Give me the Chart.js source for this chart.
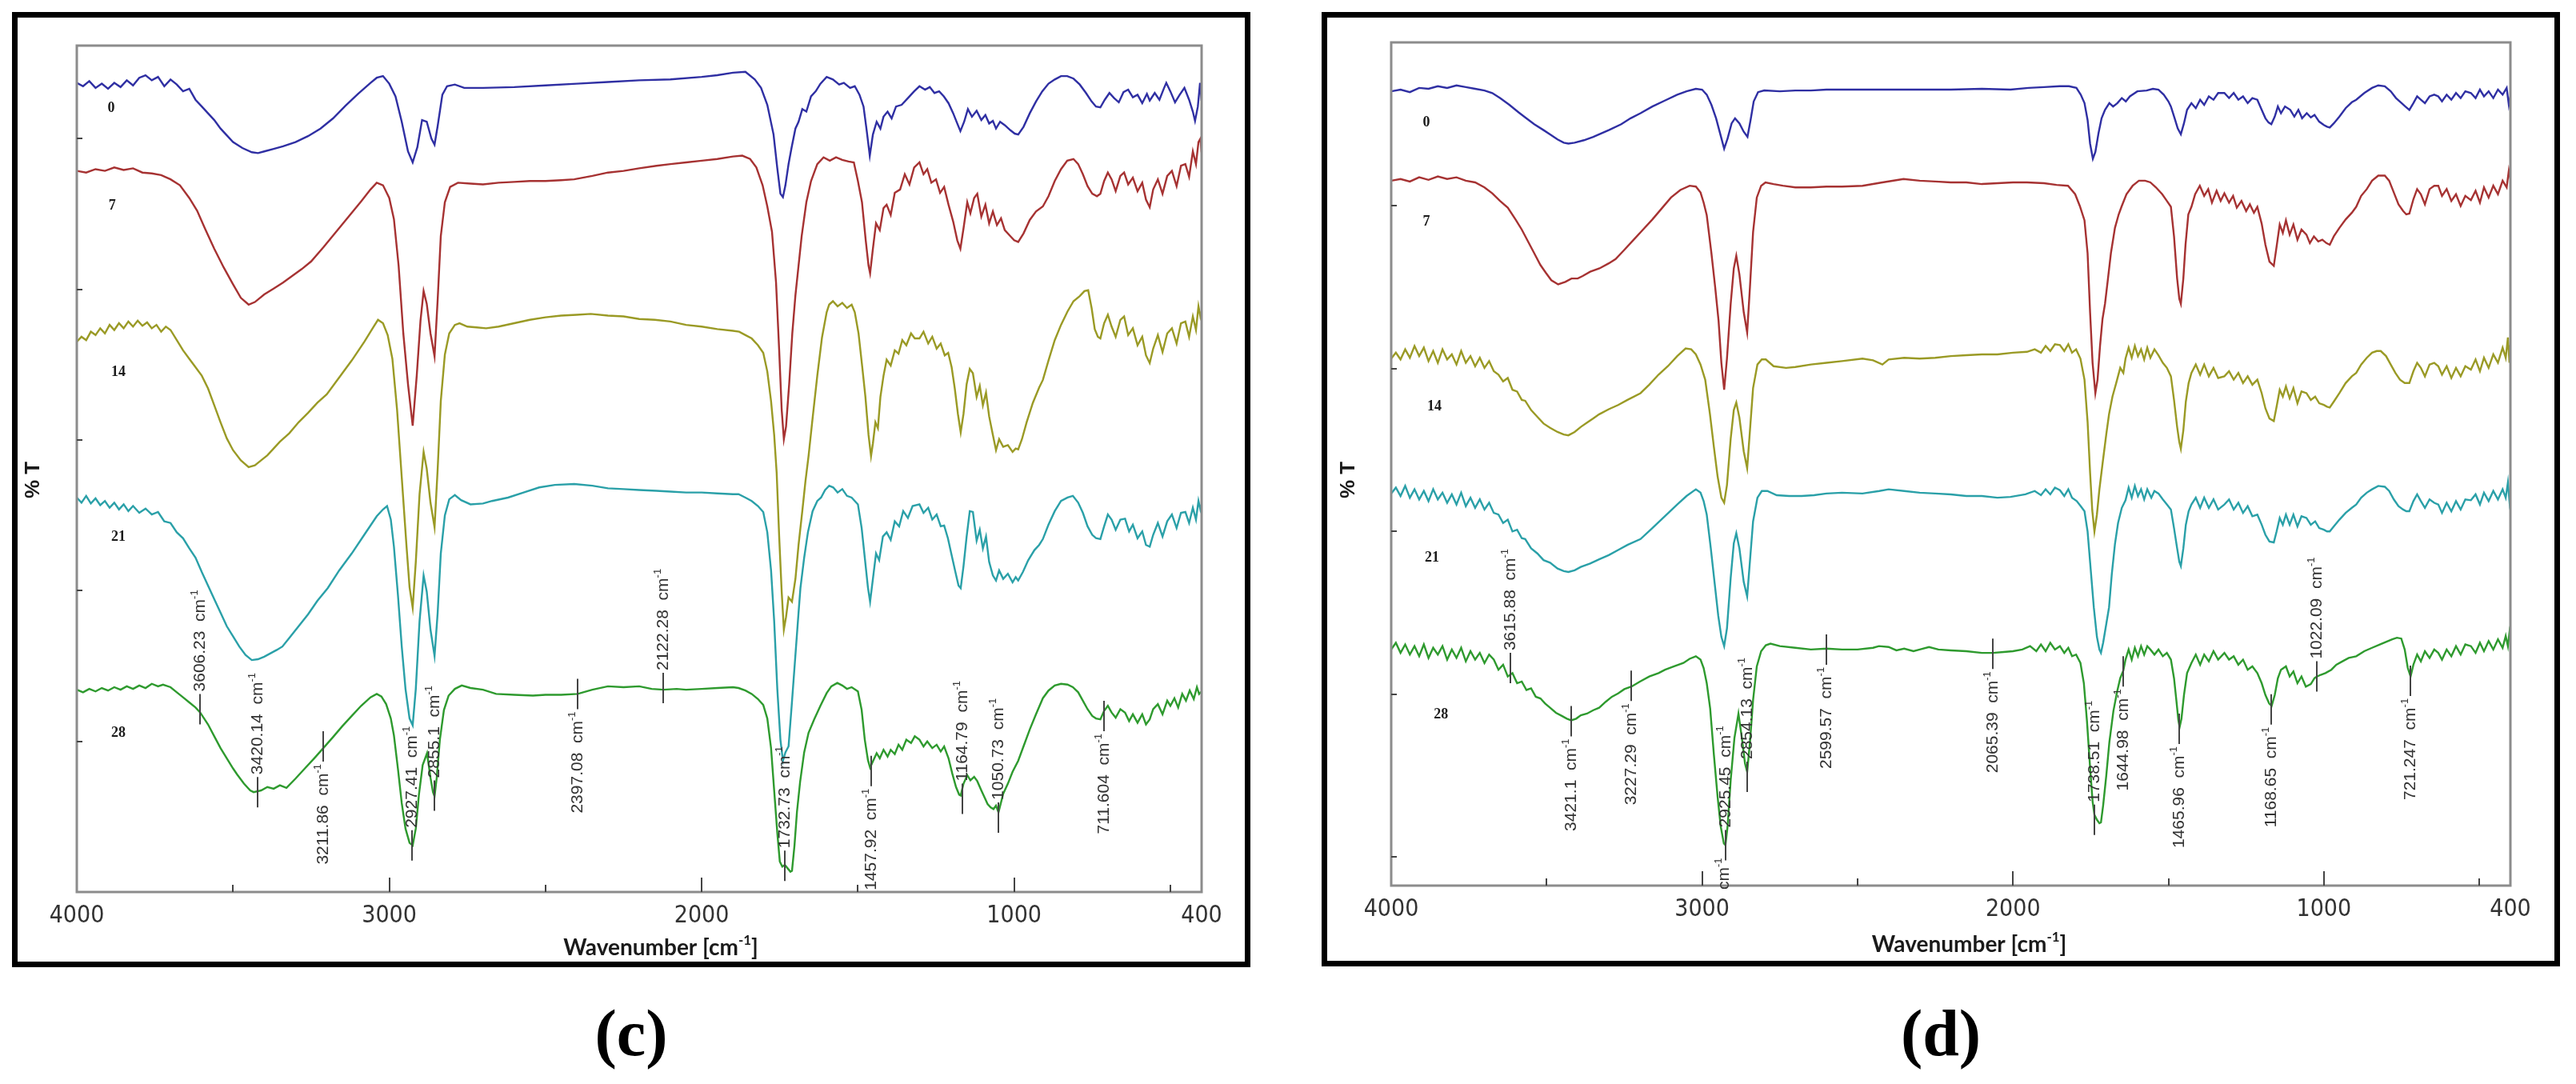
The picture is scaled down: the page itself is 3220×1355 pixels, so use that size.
<!DOCTYPE html>
<html>
<head>
<meta charset="utf-8">
<script src="https://cdn.jsdelivr.net/npm/chart.js@4.4.0/dist/chart.umd.min.js"></script>
<style>
html, body { margin: 0; padding: 0; background: #fff; }
body { width: 3220px; height: 1355px; position: relative; overflow: hidden; }
canvas { position: absolute; top: 0; }
#cvC { left: 0; }
#cvD { left: 1610px; }
</style>
</head>
<body>
<canvas id="cvC" width="1610" height="1355"></canvas>
<canvas id="cvD" width="1610" height="1355"></canvas>
<script>
// ---- axes ----
const xMin = 400, xMax = 4000;
const xTickVals = [4000, 3500, 3000, 2500, 2000, 1500, 1000, 500, 400];
const xLabelled = [4000, 3000, 2000, 1000, 400];
const xMajor = [3000, 2000, 1000];
const yTicksC = [17.8, 35.6, 53.4, 71.2, 89.0];
const yTicksD = [3.4, 22.7, 42.0, 61.3, 80.6];

// ---- series (wavenumber, %T offset) ----
const seriesNames = ['0', '7', '14', '21', '28'];
const seriesColors = ['#2f2fa3', '#a63232', '#9a9a25', '#2aa0a8', '#2e9a2e'];

// panel (c)
const c0 = [[4000,95.6],[3980,95.2],[3960,95.8],[3940,95.0],[3920,95.5],[3900,94.9],[3880,95.6],[3860,95.1],[3840,95.9],[3820,95.3],[3800,96.2],[3780,96.5],[3760,95.9],[3740,96.3],[3720,95.2],[3700,96.0],[3680,95.4],[3660,94.6],[3640,94.9],[3620,93.6],[3600,92.8],[3580,92.0],[3560,91.2],[3540,90.2],[3520,89.4],[3500,88.6],[3470,87.9],[3440,87.4],[3420,87.3],[3400,87.5],[3370,87.8],[3340,88.1],[3300,88.6],[3260,89.3],[3220,90.2],[3180,91.4],[3140,92.9],[3100,94.3],[3060,95.6],[3040,96.2],[3020,96.4],[3000,95.5],[2980,94.0],[2960,91.0],[2940,87.5],[2925,86.2],[2910,88.0],[2895,91.2],[2880,91.0],[2865,89.0],[2855,88.3],[2845,90.5],[2830,94.2],[2815,95.2],[2790,95.4],[2760,95.0],[2700,95.0],[2600,95.1],[2500,95.3],[2400,95.5],[2300,95.7],[2200,95.9],[2100,96.0],[2000,96.3],[1950,96.5],[1900,96.8],[1860,96.9],[1830,96.0],[1810,95.0],[1790,93.0],[1770,89.5],[1758,85.5],[1748,82.5],[1740,82.1],[1732,83.5],[1722,86.0],[1712,88.0],[1700,90.2],[1690,91.0],[1678,92.5],[1665,92.2],[1650,94.0],[1635,94.6],[1620,95.5],[1600,96.3],[1580,96.0],[1560,95.4],[1545,95.6],[1525,95.0],[1510,95.2],[1495,94.2],[1482,92.8],[1472,90.0],[1462,87.0],[1452,89.5],[1440,91.0],[1428,90.2],[1418,91.6],[1405,92.2],[1392,91.4],[1378,92.8],[1360,93.0],[1340,93.8],[1320,94.6],[1303,95.2],[1285,94.8],[1270,95.1],[1255,94.4],[1240,94.6],[1225,94.0],[1210,93.2],[1195,92.0],[1182,90.8],[1172,89.9],[1160,91.0],[1148,92.5],[1135,91.6],[1120,92.3],[1105,91.2],[1092,91.8],[1080,90.8],[1068,91.1],[1058,90.2],[1045,91.0],[1030,90.6],[1012,90.0],[998,89.6],[987,89.5],[970,90.4],[950,92.0],[930,93.4],[910,94.6],[890,95.5],[870,96.0],[850,96.4],[830,96.4],[810,96.1],[790,95.4],[770,94.4],[752,93.4],[738,92.8],[724,92.7],[710,93.6],[695,94.4],[680,93.8],[665,93.3],[650,94.5],[635,94.8],[620,93.9],[605,94.2],[590,93.2],[575,94.3],[566,93.5],[550,94.4],[535,93.6],[520,95.0],[513,95.6],[500,94.6],[485,93.3],[470,94.2],[455,95.0],[440,93.6],[428,92.2],[421,91.1],[412,92.8],[405,95.6],[400,93.5]];
const c7 = [[4000,85.2],[3970,85.0],[3940,85.4],[3910,85.2],[3880,85.6],[3850,85.3],[3820,85.5],[3790,85.0],[3760,84.9],[3730,84.7],[3700,84.2],[3670,83.5],[3640,82.0],[3615,80.5],[3590,78.4],[3560,76.0],[3530,73.8],[3500,71.8],[3475,70.2],[3450,69.4],[3430,69.7],[3400,70.6],[3370,71.3],[3340,72.0],[3310,72.8],[3280,73.6],[3250,74.5],[3210,76.2],[3170,78.0],[3130,79.8],[3090,81.6],[3060,83.0],[3040,83.8],[3020,83.5],[3000,82.0],[2985,79.5],[2970,74.0],[2955,66.0],[2940,60.0],[2925,55.1],[2912,61.0],[2900,67.5],[2890,71.0],[2880,69.5],[2868,66.0],[2855,63.3],[2845,70.0],[2835,77.5],[2822,81.5],[2805,83.3],[2780,83.8],[2740,83.7],[2700,83.6],[2650,83.8],[2600,83.9],[2550,84.0],[2500,84.0],[2450,84.1],[2408,84.2],[2350,84.6],[2300,85.0],[2250,85.2],[2200,85.5],[2145,85.8],[2100,86.0],[2050,86.2],[2000,86.4],[1950,86.6],[1900,86.9],[1870,87.0],[1845,86.6],[1825,85.6],[1805,83.5],[1790,81.0],[1775,78.0],[1762,72.0],[1752,64.0],[1744,57.0],[1737,53.5],[1730,55.0],[1720,60.0],[1710,66.0],[1700,70.5],[1690,74.0],[1680,77.5],[1665,81.5],[1650,84.0],[1630,86.0],[1610,86.8],[1590,86.4],[1570,86.8],[1550,86.5],[1530,86.3],[1513,86.2],[1500,84.0],[1487,81.5],[1475,77.0],[1466,74.0],[1461,73.1],[1452,76.0],[1442,79.0],[1430,78.2],[1418,80.8],[1408,81.2],[1395,80.0],[1382,82.6],[1365,83.0],[1350,84.8],[1335,83.6],[1320,85.6],[1303,86.2],[1290,84.8],[1278,85.4],[1265,83.8],[1250,84.2],[1237,82.6],[1224,83.3],[1210,81.2],[1195,79.2],[1182,77.0],[1172,76.0],[1162,78.4],[1150,81.5],[1140,80.2],[1128,82.0],[1118,82.5],[1105,79.8],[1092,81.2],[1080,79.0],[1068,80.4],[1055,78.8],[1042,79.6],[1030,78.2],[1015,77.6],[1000,77.0],[987,76.8],[970,77.8],[950,79.4],[930,80.4],[908,81.0],[890,82.2],[870,84.0],[850,85.4],[830,86.4],[810,86.6],[795,86.0],[780,84.8],[765,83.4],[750,82.5],[735,82.2],[724,82.5],[712,84.0],[700,85.0],[688,84.2],[675,82.8],[660,84.6],[648,85.0],[635,83.6],[620,84.4],[605,82.8],[590,83.8],[578,81.8],[566,80.9],[555,83.0],[540,84.2],[525,82.5],[510,84.6],[495,85.2],[480,83.4],[466,85.8],[452,86.0],[440,84.5],[428,87.5],[418,86.0],[410,88.6],[404,89.0],[400,87.4]];
const c14 = [[4000,65.0],[3985,65.6],[3970,65.2],[3955,66.2],[3940,65.8],[3925,66.6],[3910,66.0],[3895,67.0],[3880,66.4],[3865,67.2],[3850,66.6],[3835,67.4],[3820,66.8],[3805,67.5],[3790,66.9],[3775,67.3],[3760,66.6],[3745,67.0],[3730,66.2],[3715,66.8],[3700,66.4],[3680,65.2],[3660,64.0],[3640,63.0],[3620,62.0],[3600,61.0],[3580,59.5],[3560,57.5],[3540,55.5],[3520,53.6],[3500,52.2],[3475,51.0],[3450,50.2],[3430,50.4],[3410,51.0],[3390,51.6],[3370,52.4],[3350,53.2],[3320,54.2],[3290,55.5],[3260,56.6],[3230,57.8],[3200,58.8],[3160,60.8],[3120,62.8],[3080,65.0],[3050,66.8],[3036,67.6],[3020,67.2],[3005,65.8],[2990,63.0],[2975,57.0],[2960,49.0],[2945,41.0],[2935,36.0],[2925,33.6],[2915,39.0],[2903,47.0],[2890,52.0],[2880,50.0],[2868,46.0],[2855,43.1],[2845,50.0],[2835,58.0],[2822,63.5],[2808,66.0],[2790,67.0],[2775,67.2],[2750,66.8],[2720,66.7],[2690,66.6],[2650,66.8],[2600,67.2],[2550,67.6],[2500,67.9],[2450,68.1],[2400,68.2],[2355,68.3],[2300,68.1],[2250,68.0],[2200,67.7],[2150,67.6],[2100,67.4],[2050,67.0],[2000,66.8],[1950,66.5],[1900,66.3],[1880,66.2],[1860,65.8],[1840,65.4],[1820,64.6],[1803,63.7],[1790,61.5],[1778,58.0],[1768,54.0],[1760,49.5],[1752,42.0],[1744,35.5],[1737,31.0],[1730,32.5],[1722,34.8],[1711,34.3],[1700,37.0],[1690,41.0],[1678,45.0],[1668,48.5],[1658,51.5],[1645,56.0],[1630,61.0],[1615,65.5],[1600,68.5],[1592,69.4],[1580,69.8],[1565,69.2],[1550,69.6],[1535,69.0],[1520,69.4],[1510,68.5],[1498,66.0],[1486,62.0],[1476,58.5],[1466,54.0],[1458,51.5],[1452,53.0],[1444,55.5],[1436,54.8],[1428,58.5],[1418,61.0],[1408,62.9],[1395,62.2],[1382,64.0],[1370,63.6],[1358,65.2],[1345,64.6],[1330,66.0],[1318,65.4],[1303,65.4],[1290,66.2],[1275,64.8],[1262,65.6],[1248,64.2],[1235,64.8],[1222,63.4],[1211,63.7],[1200,62.0],[1190,59.5],[1180,56.5],[1171,54.3],[1162,56.5],[1152,60.0],[1142,61.8],[1132,61.3],[1120,58.5],[1110,59.8],[1100,57.5],[1090,59.0],[1080,56.2],[1068,54.0],[1058,52.2],[1048,53.5],[1035,52.6],[1020,52.8],[1005,52.0],[995,52.4],[987,52.3],[975,53.5],[960,55.5],[940,57.8],[920,59.6],[908,60.5],[890,62.8],[870,65.2],[850,67.0],[829,68.6],[810,69.8],[790,70.4],[775,71.0],[763,71.1],[752,69.0],[742,66.5],[732,65.6],[724,65.4],[712,67.2],[700,68.2],[688,66.8],[675,65.6],[660,67.6],[648,68.0],[635,65.8],[620,66.6],[605,64.6],[590,65.6],[578,63.4],[566,62.5],[555,64.2],[540,65.8],[525,63.8],[510,66.0],[495,66.6],[480,64.8],[466,67.2],[452,67.4],[440,65.6],[428,68.0],[418,66.4],[410,69.2],[404,68.0],[400,68.6]];
const c21 = [[4000,46.6],[3985,46.0],[3970,46.8],[3955,45.9],[3940,46.5],[3925,45.7],[3910,46.2],[3895,45.4],[3880,46.0],[3865,45.2],[3850,45.8],[3835,45.0],[3820,45.6],[3800,44.8],[3780,45.3],[3760,44.6],[3740,44.9],[3720,43.8],[3700,43.6],[3680,42.5],[3660,41.8],[3640,40.6],[3620,39.5],[3600,37.8],[3580,36.2],[3560,34.6],[3540,33.0],[3520,31.4],[3500,30.2],[3480,29.0],[3460,28.0],[3440,27.4],[3420,27.5],[3400,27.8],[3380,28.2],[3360,28.6],[3342,29.0],[3320,30.0],[3290,31.4],[3260,32.8],[3230,34.4],[3197,35.9],[3160,38.0],[3120,40.0],[3080,42.2],[3040,44.4],[3020,45.2],[3007,45.6],[2995,44.0],[2985,40.8],[2972,35.0],[2960,29.0],[2948,24.0],[2935,20.5],[2925,19.7],[2915,24.0],[2903,32.0],[2890,37.4],[2880,35.5],[2868,31.0],[2855,27.9],[2845,33.0],[2835,40.0],[2822,44.5],[2808,46.4],[2790,46.9],[2770,46.3],[2740,45.8],[2700,45.9],[2671,46.2],[2620,46.6],[2570,47.2],[2520,47.8],[2470,48.1],[2408,48.2],[2350,48.0],[2300,47.7],[2250,47.6],[2200,47.5],[2145,47.4],[2100,47.3],[2050,47.2],[2000,47.2],[1950,47.1],[1900,47.0],[1882,47.0],[1860,46.6],[1840,46.2],[1820,45.6],[1803,44.9],[1790,42.5],[1778,38.0],[1768,32.0],[1758,24.0],[1748,18.0],[1740,15.5],[1732,16.5],[1722,17.2],[1712,22.0],[1700,28.0],[1690,33.0],[1684,35.9],[1672,39.5],[1660,42.5],[1645,45.0],[1630,46.2],[1618,46.6],[1605,47.5],[1592,48.0],[1579,47.8],[1565,47.2],[1550,47.6],[1535,46.8],[1520,46.6],[1500,45.8],[1488,43.0],[1478,39.5],[1468,36.0],[1461,34.3],[1452,37.0],[1442,40.0],[1432,39.2],[1420,42.0],[1408,42.5],[1395,41.6],[1382,43.8],[1368,43.2],[1355,45.0],[1340,44.2],[1325,45.6],[1303,45.8],[1290,44.8],[1275,45.4],[1262,44.0],[1248,44.6],[1235,43.2],[1224,43.3],[1212,41.8],[1200,39.8],[1188,37.8],[1178,36.2],[1171,35.9],[1162,38.5],[1152,42.0],[1142,45.0],[1132,44.9],[1120,41.5],[1110,42.8],[1100,40.6],[1090,42.0],[1080,39.0],[1068,37.4],[1058,36.8],[1048,38.0],[1035,37.0],[1020,37.6],[1005,36.6],[995,37.2],[987,36.8],[972,37.8],[955,39.2],[935,40.4],[920,41.0],[908,41.7],[890,43.4],[870,45.0],[850,46.2],[829,46.6],[812,46.8],[795,46.0],[780,44.8],[765,43.2],[750,42.2],[738,41.8],[724,41.7],[712,43.2],[700,44.6],[688,44.0],[675,42.8],[660,44.0],[645,44.1],[632,42.6],[620,43.4],[605,41.8],[590,42.6],[578,41.0],[566,40.8],[555,42.2],[540,43.6],[525,42.0],[510,43.8],[495,44.6],[480,43.0],[466,44.8],[452,44.9],[440,43.6],[428,45.4],[418,44.0],[410,46.2],[404,45.2],[400,45.8]];
const c28 = [[4000,23.9],[3980,23.6],[3960,24.0],[3940,23.7],[3920,24.1],[3900,23.8],[3880,24.2],[3860,23.9],[3840,24.3],[3820,24.0],[3800,24.4],[3780,24.1],[3760,24.6],[3740,24.3],[3724,24.5],[3700,24.2],[3680,23.6],[3660,23.0],[3640,22.4],[3620,21.8],[3605,21.2],[3580,19.8],[3560,18.4],[3540,17.0],[3520,15.8],[3500,14.6],[3487,13.9],[3465,12.8],[3445,12.0],[3434,11.8],[3410,12.0],[3390,12.4],[3370,12.2],[3350,12.6],[3329,12.3],[3300,13.4],[3270,14.6],[3240,15.8],[3211,17.0],[3180,18.3],[3150,19.6],[3120,20.8],[3090,22.0],[3060,23.0],[3040,23.4],[3025,23.1],[3010,22.2],[2995,20.5],[2985,18.5],[2972,14.5],[2960,10.5],[2948,7.5],[2935,5.8],[2925,5.5],[2915,7.5],[2905,11.5],[2893,15.0],[2879,16.4],[2868,13.5],[2860,11.8],[2855,11.3],[2848,13.5],[2838,18.0],[2825,21.5],[2810,23.2],[2790,24.0],[2768,24.4],[2740,24.1],[2700,23.9],[2658,23.4],[2600,23.3],[2540,23.2],[2500,23.3],[2450,23.3],[2397,23.4],[2350,23.9],[2300,24.3],[2250,24.2],[2200,24.3],[2160,24.0],[2122,23.9],[2080,24.0],[2050,23.9],[2000,24.0],[1950,24.1],[1900,24.2],[1882,24.1],[1860,23.8],[1840,23.4],[1820,22.8],[1803,22.1],[1790,20.5],[1778,17.0],[1768,12.0],[1758,7.0],[1750,3.6],[1742,3.0],[1734,3.2],[1725,2.8],[1716,2.4],[1711,2.5],[1703,5.5],[1695,9.5],[1685,13.0],[1672,16.5],[1658,18.8],[1640,20.4],[1620,22.0],[1600,23.5],[1585,24.3],[1566,24.7],[1550,24.4],[1535,24.0],[1520,24.2],[1500,23.7],[1488,21.5],[1478,18.0],[1468,15.6],[1461,14.7],[1450,15.6],[1440,16.4],[1430,15.8],[1418,16.8],[1405,16.0],[1395,16.8],[1382,16.3],[1370,17.4],[1358,16.8],[1345,18.0],[1330,17.6],[1318,18.4],[1303,18.0],[1290,17.2],[1278,17.8],[1262,17.0],[1248,17.4],[1235,16.6],[1224,17.2],[1210,15.8],[1198,14.0],[1186,12.4],[1176,11.5],[1171,11.4],[1162,12.8],[1150,13.8],[1140,13.2],[1128,13.6],[1118,13.1],[1105,12.0],[1095,11.2],[1085,10.4],[1075,10.0],[1066,9.8],[1058,10.2],[1050,9.4],[1035,11.6],[1020,12.8],[1005,14.2],[987,15.5],[970,17.2],[950,19.2],[930,21.0],[908,22.9],[890,23.8],[870,24.4],[850,24.6],[829,24.5],[812,24.2],[795,23.6],[780,22.6],[765,21.6],[750,20.8],[738,20.5],[724,20.4],[712,21.4],[700,22.0],[688,21.2],[675,20.6],[660,21.6],[645,21.2],[632,20.2],[620,21.0],[605,20.0],[590,21.0],[578,19.8],[566,20.4],[555,21.6],[540,22.2],[525,21.0],[510,22.6],[500,22.0],[487,22.9],[475,21.8],[462,23.4],[450,22.6],[438,23.8],[425,22.8],[415,24.2],[408,23.4],[400,23.7]];

// panel (d)
const d0 = [[4000,94.2],[3970,94.4],[3940,94.1],[3910,94.6],[3880,94.5],[3850,94.8],[3820,94.6],[3790,94.9],[3760,94.7],[3730,94.5],[3700,94.3],[3675,94.0],[3650,93.4],[3620,92.6],[3590,91.7],[3569,91.1],[3540,90.3],[3510,89.6],[3489,89.1],[3465,88.5],[3445,88.1],[3430,88.0],[3410,88.1],[3380,88.4],[3350,88.8],[3331,89.1],[3300,89.6],[3260,90.3],[3230,91.0],[3198,91.6],[3160,92.4],[3120,93.1],[3080,93.8],[3050,94.2],[3020,94.5],[3000,94.4],[2985,93.8],[2970,92.6],[2955,91.0],[2942,89.2],[2929,87.4],[2918,88.6],[2905,90.4],[2894,91.0],[2880,90.4],[2866,89.4],[2854,88.8],[2844,90.8],[2834,93.0],[2820,94.1],[2800,94.3],[2750,94.2],[2700,94.3],[2650,94.3],[2600,94.4],[2550,94.4],[2484,94.4],[2400,94.4],[2300,94.4],[2200,94.4],[2100,94.5],[2008,94.4],[1950,94.6],[1900,94.7],[1850,94.8],[1820,94.8],[1796,94.6],[1782,93.8],[1770,92.8],[1760,90.8],[1752,88.0],[1743,86.2],[1735,87.0],[1725,89.2],[1715,91.0],[1704,92.0],[1690,92.8],[1678,92.4],[1664,92.8],[1650,93.4],[1637,93.0],[1624,93.6],[1600,94.2],[1570,94.3],[1550,94.5],[1532,94.4],[1515,93.8],[1500,93.0],[1492,92.4],[1480,91.0],[1470,89.8],[1460,89.1],[1450,90.4],[1440,92.0],[1426,92.8],[1412,92.2],[1398,93.2],[1385,92.6],[1370,93.6],[1355,93.2],[1340,94.0],[1320,94.0],[1305,93.4],[1290,94.0],[1275,93.2],[1260,93.6],[1245,92.8],[1230,93.4],[1214,93.2],[1200,92.0],[1188,91.0],[1178,90.5],[1169,90.3],[1158,91.2],[1148,92.4],[1138,91.6],[1125,92.4],[1108,92.0],[1095,91.2],[1082,92.0],[1070,91.0],[1055,91.6],[1042,91.1],[1030,91.4],[1015,90.6],[1000,90.2],[990,90.0],[981,89.9],[968,90.4],[950,91.2],[930,92.2],[910,92.9],[896,93.2],[870,94.0],[845,94.6],[825,94.9],[804,94.8],[785,94.2],[768,93.4],[750,92.8],[738,92.4],[725,92.0],[712,92.8],[700,93.6],[688,93.2],[675,92.8],[660,93.6],[645,93.8],[632,93.6],[620,93.0],[605,93.8],[590,93.2],[575,94.0],[560,93.4],[545,94.2],[527,94.0],[512,93.4],[498,94.4],[485,93.6],[470,94.2],[455,93.4],[440,94.4],[425,93.8],[412,94.6],[405,92.6],[400,93.6]];
const d7 = [[4000,83.6],[3970,83.8],[3940,83.5],[3910,84.0],[3880,83.7],[3850,84.1],[3820,83.8],[3790,84.0],[3760,83.6],[3730,83.4],[3700,82.8],[3675,82.1],[3650,81.2],[3625,80.4],[3600,79.0],[3580,77.8],[3560,76.4],[3540,75.0],[3520,73.6],[3503,72.7],[3485,71.8],[3463,71.3],[3440,71.6],[3420,72.0],[3400,72.0],[3384,72.3],[3360,72.8],[3330,73.2],[3300,73.8],[3278,74.3],[3250,75.4],[3220,76.6],[3190,77.8],[3160,79.0],[3130,80.3],[3100,81.6],[3070,82.5],[3040,83.0],[3020,82.9],[3005,82.2],[2995,81.0],[2985,79.5],[2970,75.0],[2958,71.0],[2947,67.0],[2938,62.0],[2929,58.8],[2920,62.5],[2908,69.0],[2898,73.2],[2890,74.7],[2880,72.5],[2866,68.0],[2855,65.6],[2846,71.0],[2836,77.5],[2824,81.6],[2810,83.0],[2796,83.4],[2770,83.2],[2740,83.0],[2700,82.8],[2650,82.8],[2600,82.9],[2550,82.9],[2484,83.0],[2420,83.4],[2352,83.8],[2300,83.6],[2250,83.5],[2200,83.4],[2150,83.4],[2100,83.2],[2050,83.3],[2000,83.4],[1955,83.4],[1900,83.3],[1860,83.1],[1823,83.0],[1800,82.0],[1785,80.6],[1770,78.9],[1760,75.0],[1752,68.0],[1744,62.0],[1735,58.4],[1728,60.0],[1720,64.0],[1712,67.2],[1704,69.0],[1695,71.8],[1685,75.0],[1672,78.0],[1660,79.6],[1651,80.5],[1635,82.0],[1615,83.0],[1595,83.6],[1575,83.6],[1558,83.4],[1540,82.8],[1520,82.0],[1505,81.2],[1492,80.5],[1482,77.0],[1472,72.0],[1465,69.6],[1460,69.0],[1452,72.0],[1445,76.0],[1436,79.6],[1426,80.5],[1414,82.0],[1399,83.0],[1385,81.8],[1372,82.6],[1360,81.0],[1345,82.4],[1332,81.2],[1320,82.1],[1305,81.0],[1292,81.8],[1280,80.4],[1265,81.2],[1250,80.0],[1238,80.8],[1225,79.8],[1214,80.5],[1200,78.5],[1188,76.0],[1175,74.0],[1161,73.5],[1152,75.8],[1142,78.4],[1132,77.4],[1122,78.9],[1110,77.2],[1098,78.4],[1085,76.6],[1072,77.8],[1056,77.2],[1045,76.2],[1032,77.0],[1018,76.4],[1005,76.6],[992,76.2],[981,76.0],[968,77.0],[950,78.0],[930,79.0],[910,79.8],[896,80.5],[880,81.8],[862,82.6],[845,83.6],[825,84.2],[804,84.2],[790,83.6],[775,82.2],[760,80.8],[745,80.0],[735,79.6],[725,79.7],[712,81.4],[700,82.6],[688,82.0],[675,80.8],[660,82.6],[645,83.0],[632,83.0],[620,81.8],[605,82.6],[590,81.2],[575,82.0],[560,80.6],[545,81.8],[527,81.3],[512,82.4],[498,81.0],[485,82.8],[470,81.6],[455,83.0],[440,82.0],[425,83.6],[412,82.8],[405,84.8],[400,83.8]];
const d14 = [[4000,62.5],[3985,63.2],[3970,62.4],[3955,63.6],[3940,62.6],[3925,64.0],[3910,62.8],[3895,63.8],[3880,62.2],[3865,63.4],[3850,62.0],[3835,63.6],[3820,62.4],[3805,63.0],[3790,61.8],[3775,63.4],[3760,62.0],[3745,62.8],[3730,61.6],[3715,62.6],[3700,61.4],[3685,62.2],[3670,61.0],[3655,60.6],[3640,59.8],[3625,60.2],[3610,58.8],[3595,58.6],[3580,57.6],[3569,57.5],[3550,56.4],[3530,55.6],[3510,54.8],[3489,54.3],[3465,53.8],[3445,53.5],[3430,53.4],[3410,53.8],[3390,54.4],[3370,54.9],[3350,55.4],[3331,55.9],[3300,56.5],[3270,57.0],[3240,57.6],[3198,58.4],[3170,59.4],[3140,60.6],[3110,61.6],[3080,62.8],[3053,63.7],[3035,63.6],[3020,63.0],[3005,61.8],[2990,60.0],[2975,56.0],[2962,52.0],[2950,48.5],[2938,46.0],[2929,45.4],[2920,47.5],[2908,53.0],[2898,56.4],[2890,57.3],[2880,55.5],[2866,51.5],[2855,49.5],[2846,54.0],[2836,59.0],[2822,61.8],[2808,62.4],[2795,62.4],[2770,61.6],[2730,61.4],[2700,61.5],[2650,61.8],[2600,62.0],[2550,62.2],[2484,62.5],[2450,62.3],[2420,61.8],[2400,62.4],[2350,62.6],[2300,62.5],[2250,62.6],[2200,62.8],[2150,62.9],[2100,63.0],[2050,63.0],[2000,63.2],[1955,63.3],[1930,63.6],[1910,63.2],[1895,64.0],[1880,63.4],[1865,64.2],[1849,64.1],[1835,63.4],[1822,64.2],[1810,63.2],[1797,63.6],[1783,62.5],[1770,60.0],[1760,55.0],[1752,49.0],[1745,44.5],[1738,42.0],[1730,44.0],[1722,47.0],[1712,50.0],[1700,53.5],[1691,55.9],[1680,58.0],[1668,59.6],[1655,61.4],[1645,60.8],[1638,62.5],[1628,63.8],[1618,62.6],[1608,64.0],[1598,62.8],[1588,63.6],[1578,62.4],[1568,63.8],[1558,62.6],[1545,63.6],[1532,62.9],[1518,62.0],[1505,61.4],[1492,60.4],[1482,57.6],[1472,54.4],[1465,52.6],[1460,51.8],[1452,54.0],[1444,57.4],[1435,59.6],[1426,60.8],[1412,61.8],[1398,60.6],[1385,61.8],[1370,60.4],[1355,61.4],[1340,60.2],[1320,60.4],[1305,61.0],[1290,60.0],[1275,60.8],[1260,59.6],[1245,60.4],[1230,59.4],[1214,60.0],[1200,58.4],[1188,56.6],[1175,55.4],[1161,55.1],[1152,56.8],[1142,58.8],[1132,58.0],[1122,59.2],[1110,57.8],[1098,59.0],[1085,57.2],[1072,58.6],[1056,58.4],[1042,57.6],[1028,58.0],[1015,57.2],[1000,57.0],[990,56.8],[981,56.7],[968,57.4],[950,58.4],[930,59.6],[910,60.4],[896,60.8],[880,61.8],[862,62.6],[845,63.2],[830,63.4],[817,63.4],[800,62.8],[785,61.8],[770,60.8],[755,60.0],[740,59.6],[725,59.6],[712,61.0],[700,62.0],[688,61.4],[675,60.4],[660,61.8],[645,62.0],[632,61.6],[620,60.6],[605,61.6],[590,60.2],[575,61.4],[560,60.4],[545,61.6],[527,61.2],[512,62.4],[498,61.0],[485,62.6],[470,61.4],[455,63.0],[440,62.0],[425,63.8],[415,62.6],[408,65.0],[403,62.0],[400,64.1]];
const d21 = [[4000,46.5],[3985,47.2],[3970,46.2],[3955,47.4],[3940,46.0],[3925,47.0],[3910,45.8],[3895,46.8],[3880,45.6],[3865,47.0],[3850,45.8],[3835,46.6],[3820,45.4],[3805,46.4],[3790,45.2],[3775,46.6],[3760,45.0],[3745,46.0],[3730,44.8],[3715,45.8],[3700,44.6],[3685,45.4],[3670,44.2],[3655,44.0],[3640,43.0],[3625,43.4],[3610,42.0],[3595,42.2],[3580,41.2],[3569,41.1],[3550,40.0],[3530,39.4],[3510,38.6],[3489,38.3],[3465,37.6],[3445,37.3],[3430,37.2],[3410,37.4],[3390,37.8],[3360,38.2],[3331,38.7],[3300,39.2],[3270,39.8],[3240,40.4],[3198,41.1],[3160,42.4],[3120,43.8],[3080,45.2],[3050,46.2],[3020,47.0],[3005,46.6],[2995,45.6],[2985,44.0],[2972,40.0],[2960,36.0],[2948,32.0],[2938,29.5],[2929,28.4],[2920,30.5],[2908,36.5],[2898,40.6],[2890,41.8],[2880,40.0],[2866,36.0],[2855,34.3],[2846,38.5],[2836,43.2],[2822,46.0],[2808,46.8],[2790,46.8],[2760,46.3],[2720,46.2],[2680,46.2],[2640,46.3],[2600,46.5],[2550,46.6],[2484,46.5],[2430,46.8],[2400,47.0],[2350,46.8],[2300,46.6],[2250,46.5],[2200,46.4],[2150,46.2],[2100,46.2],[2050,46.0],[2008,46.1],[1960,46.4],[1930,46.8],[1910,46.3],[1895,47.0],[1880,46.4],[1865,47.2],[1849,46.9],[1835,46.2],[1822,47.0],[1810,46.0],[1795,45.6],[1782,45.0],[1770,44.4],[1760,42.0],[1750,37.5],[1740,33.0],[1730,29.5],[1722,28.0],[1717,27.6],[1710,28.8],[1700,31.0],[1691,33.0],[1682,37.0],[1672,40.5],[1662,43.0],[1650,44.8],[1638,45.7],[1628,47.2],[1618,46.0],[1608,47.4],[1598,46.2],[1588,47.0],[1578,45.8],[1568,47.0],[1555,46.0],[1545,46.8],[1532,46.5],[1518,45.8],[1505,45.2],[1492,44.6],[1482,42.4],[1472,40.0],[1465,38.4],[1460,37.9],[1452,40.0],[1444,42.8],[1435,44.4],[1426,45.2],[1412,46.0],[1398,44.8],[1385,46.0],[1370,44.8],[1355,45.8],[1340,44.6],[1320,45.2],[1305,45.8],[1290,44.6],[1275,45.4],[1260,44.2],[1245,45.0],[1230,43.8],[1214,44.0],[1200,42.8],[1188,41.6],[1175,40.8],[1161,40.7],[1152,42.0],[1142,43.6],[1132,42.8],[1122,44.0],[1110,42.8],[1098,44.0],[1085,42.6],[1072,43.8],[1056,43.6],[1042,42.8],[1028,43.2],[1015,42.4],[1000,42.2],[990,42.0],[981,42.0],[968,42.6],[950,43.4],[930,44.2],[910,44.8],[896,45.2],[880,46.0],[862,46.6],[845,47.0],[825,47.4],[804,47.3],[790,46.8],[775,45.8],[760,45.0],[745,44.6],[735,44.4],[725,44.4],[712,45.6],[700,46.4],[688,45.6],[675,44.8],[660,45.8],[645,45.4],[632,45.2],[620,44.2],[605,45.4],[590,44.4],[575,45.6],[560,44.6],[545,45.8],[527,45.7],[512,46.4],[498,45.2],[485,46.6],[470,45.6],[455,46.8],[440,45.8],[425,47.0],[415,46.0],[408,47.8],[403,45.6],[400,46.5]];
const d28 = [[4000,28.0],[3985,28.8],[3970,27.6],[3955,28.6],[3940,27.4],[3925,28.4],[3910,27.2],[3895,28.6],[3880,27.0],[3865,28.2],[3850,27.4],[3835,28.4],[3820,26.8],[3805,28.0],[3790,27.0],[3775,28.2],[3760,26.6],[3745,27.8],[3730,26.8],[3715,27.6],[3700,26.4],[3685,27.4],[3670,26.8],[3655,25.6],[3640,26.2],[3625,24.8],[3610,25.2],[3595,24.0],[3580,24.2],[3565,23.2],[3550,23.4],[3535,22.4],[3520,22.2],[3505,21.6],[3489,21.1],[3470,20.5],[3450,20.1],[3435,19.8],[3421,19.6],[3405,19.8],[3390,20.2],[3370,20.4],[3350,20.8],[3331,21.1],[3310,21.8],[3290,22.4],[3270,22.8],[3250,23.3],[3227,23.6],[3200,24.2],[3170,24.8],[3140,25.2],[3119,25.6],[3090,26.0],[3060,26.4],[3040,26.9],[3020,27.2],[3005,26.8],[2995,25.8],[2985,24.0],[2974,21.0],[2962,15.5],[2950,10.5],[2940,7.0],[2930,5.0],[2925,4.8],[2918,7.0],[2908,12.5],[2896,17.5],[2883,20.4],[2872,17.5],[2862,14.5],[2855,13.5],[2846,17.0],[2836,22.0],[2824,26.0],[2810,27.8],[2795,28.5],[2780,28.7],[2750,28.4],[2700,28.2],[2650,28.0],[2599,28.1],[2550,28.0],[2500,28.0],[2450,28.2],[2431,28.4],[2400,28.3],[2375,27.9],[2350,28.1],[2320,27.8],[2300,28.0],[2270,28.3],[2240,28.0],[2200,27.9],[2150,27.8],[2100,27.6],[2065,27.6],[2030,27.7],[2000,27.8],[1970,28.0],[1945,28.4],[1925,27.8],[1910,28.6],[1895,27.8],[1880,28.8],[1865,28.0],[1849,28.4],[1835,27.6],[1822,28.2],[1810,27.2],[1797,27.4],[1783,26.4],[1772,24.0],[1762,19.5],[1752,14.0],[1744,10.0],[1738,8.4],[1730,7.8],[1722,7.4],[1717,7.5],[1710,9.5],[1700,13.0],[1690,17.0],[1677,20.7],[1665,23.0],[1655,24.6],[1645,25.5],[1638,26.8],[1628,28.0],[1618,26.8],[1608,28.2],[1598,27.2],[1588,28.4],[1578,27.4],[1568,28.4],[1558,28.0],[1545,27.4],[1532,28.0],[1518,27.2],[1505,27.6],[1492,26.8],[1482,24.6],[1474,21.8],[1468,19.6],[1464,18.8],[1458,19.8],[1450,22.6],[1440,25.2],[1426,26.4],[1412,27.4],[1398,26.2],[1385,27.4],[1370,26.6],[1355,27.8],[1340,26.8],[1320,27.6],[1305,26.8],[1290,27.2],[1275,26.2],[1260,26.8],[1245,25.6],[1230,26.0],[1214,25.2],[1200,24.0],[1188,22.6],[1176,21.6],[1168,21.3],[1158,22.6],[1148,24.6],[1138,25.6],[1122,26.0],[1110,24.8],[1098,25.4],[1085,24.0],[1072,24.8],[1058,23.6],[1042,23.9],[1030,24.6],[1022,24.8],[1010,25.0],[995,25.2],[976,25.6],[960,26.2],[940,26.6],[920,27.0],[896,27.2],[870,27.8],[845,28.2],[820,28.6],[800,28.9],[780,29.2],[765,29.4],[751,29.3],[740,28.0],[730,25.8],[721,24.8],[712,26.2],[700,27.4],[688,26.6],[675,27.8],[660,27.0],[645,28.0],[632,27.6],[620,26.8],[605,28.0],[590,27.2],[575,28.4],[560,27.4],[545,28.6],[527,28.4],[512,27.6],[498,28.8],[485,27.8],[470,29.0],[455,28.0],[440,29.2],[425,28.2],[415,29.6],[408,28.4],[403,30.0],[400,29.3]];

// series name labels: [wavenumber, %T]
const nameAtC = [[3890, 92.6], [3887, 81.1], [3867, 61.4], [3867, 41.9], [3867, 18.8]];
const nameAtD = [[3887, 90.5], [3887, 78.7], [3861, 56.8], [3869, 38.9], [3840, 20.3]];

// peak markers on day-28 trace
const peakWnC = [3606.23, 3420.14, 3211.86, 2927.41, 2855.1, 2397.08, 2122.28, 1732.73, 1457.92, 1164.79, 1050.73, 711.604];
const peakYC  = [21.6, 11.8, 17.2, 5.5, 11.4, 23.4, 24.1, 3.1, 14.3, 11.0, 8.8, 20.8];
const peakUpC = [true, true, false, true, true, false, true, true, false, true, true, false];
const peakWnD = [3615.88, 3421.1, 3227.29, 2925.45, 2854.13, 2599.57, 2065.39, 1738.51, 1644.98, 1465.96, 1168.65, 1022.09, 721.247];
const peakYD  = [25.8, 19.5, 23.7, 4.8, 12.9, 28.0, 27.5, 7.8, 25.4, 18.6, 20.9, 24.8, 24.3];
const peakUpD = [true, false, false, true, true, false, false, true, false, false, false, true, false];
const strayUnitD = [[2928, 1.4]];

const FONT_NUM = '"Liberation Sans Narrow", "DejaVu Sans Condensed", "Liberation Sans", sans-serif';
const FONT_TXT = '"Liberation Sans", Arial, sans-serif';

function drawSup(ctx, parts, x, y, align) {
  // parts: [text, size, weight, rise]
  let w = 0;
  parts.forEach(p => { ctx.font = p[2] + ' ' + p[1] + 'px ' + p[4]; p.w = ctx.measureText(p[0]).width; w += p.w; });
  let cx = align === 'center' ? x - w / 2 : (align === 'right' ? x - w : x);
  ctx.textAlign = 'left';
  parts.forEach(p => { ctx.font = p[2] + ' ' + p[1] + 'px ' + p[4]; ctx.fillText(p[0], cx, y - p[3]); cx += p.w; });
}

const panelPlugin = {
  id: 'panel',
  afterDraw(chart, args, o) {
    const ctx = chart.ctx, a = chart.chartArea, xs = chart.scales.x, ys = chart.scales.y;
    ctx.save();
    // outer black frame
    ctx.strokeStyle = '#000'; ctx.lineWidth = 7;
    ctx.strokeRect(o.frame[0], o.frame[1], o.frame[2], o.frame[3]);
    // plot box
    ctx.strokeStyle = '#8c8c8c'; ctx.lineWidth = 3;
    ctx.strokeRect(a.left, a.top, a.right - a.left, a.bottom - a.top);
    // inward x ticks
    ctx.strokeStyle = '#444'; ctx.lineWidth = 2;
    xs.ticks.forEach(t => {
      if (t.value === xMin || t.value === xMax) return;
      const px = Math.round(xs.getPixelForValue(t.value));
      const len = xMajor.includes(t.value) ? 18 : 9;
      ctx.beginPath(); ctx.moveTo(px, a.bottom); ctx.lineTo(px, a.bottom - len); ctx.stroke();
    });
    // inward y ticks
    o.yTicks.forEach(v => {
      const py = Math.round(ys.getPixelForValue(v));
      ctx.beginPath(); ctx.moveTo(a.left, py); ctx.lineTo(a.left + 7, py); ctx.stroke();
    });
    // series names
    ctx.fillStyle = '#1a1a1a'; ctx.font = 'bold 18px "Liberation Serif", serif';
    ctx.textAlign = 'center'; ctx.textBaseline = 'middle';
    o.names.forEach((p, i) => ctx.fillText(seriesNames[i], xs.getPixelForValue(p[0]), ys.getPixelForValue(p[1])));
    // peak markers
    const half = 19;
    o.peakWn.forEach((wn, i) => {
      const px = Math.round(xs.getPixelForValue(wn)), py = ys.getPixelForValue(o.peakY[i]);
      ctx.strokeStyle = '#444'; ctx.lineWidth = 2;
      ctx.beginPath(); ctx.moveTo(px, py - half); ctx.lineTo(px, py + half); ctx.stroke();
      ctx.save();
      const up = o.peakUp[i];
      ctx.translate(px, up ? py - half - 3 : py + half + 3);
      ctx.rotate(-Math.PI / 2);
      ctx.fillStyle = '#333'; ctx.textBaseline = 'middle';
      drawSup(ctx, [[String(wn) + '  cm', 21, 'normal', 0, FONT_TXT], ['-1', 13, 'normal', 7, FONT_TXT]], 0, 0, up ? 'left' : 'right');
      ctx.restore();
    });
    (o.stray || []).forEach(p => {
      ctx.save();
      ctx.translate(xs.getPixelForValue(p[0]), ys.getPixelForValue(p[1]));
      ctx.rotate(-Math.PI / 2);
      ctx.fillStyle = '#333'; ctx.textBaseline = 'middle';
      drawSup(ctx, [['cm', 21, 'normal', 0, FONT_TXT], ['-1', 13, 'normal', 7, FONT_TXT]], 0, 0, 'center');
      ctx.restore();
    });
    // axis titles
    ctx.fillStyle = '#1a1a1a'; ctx.textBaseline = 'middle';
    drawSup(ctx, [['Wavenumber [cm', 28, 'bold', 0, 'Lato, "Open Sans", sans-serif'], ['-1', 17, 'bold', 9, 'Lato, sans-serif'], [']', 28, 'bold', 0, 'Lato, sans-serif']],
      (a.left + a.right) / 2 + o.titleDx, o.titleY, 'center');
    ctx.save();
    ctx.translate(o.yTitle[0], o.yTitle[1]);
    ctx.rotate(-Math.PI / 2);
    ctx.font = 'bold 26px Arial, "Liberation Sans", sans-serif'; ctx.textAlign = 'center';
    ctx.fillText('% T', 0, 0);
    ctx.restore();
    // panel letter
    ctx.fillStyle = '#000'; ctx.font = 'bold 82px "Liberation Serif", serif';
    ctx.textAlign = 'center'; ctx.textBaseline = 'middle';
    ctx.fillText(o.letter, o.letterAt[0], o.letterAt[1]);
    ctx.restore();
  }
};

function makePanel(id, series, pad, xHeight, opts) {
  return new Chart(document.getElementById(id), {
    type: 'line',
    data: {
      datasets: series.map((s, i) => ({
        label: seriesNames[i],
        data: s.map(p => ({ x: p[0], y: p[1] })),
        borderColor: seriesColors[i],
        borderWidth: 2.4,
        pointRadius: 0,
        tension: 0,
        fill: false
      }))
    },
    options: {
      responsive: false,
      animation: false,
      events: [],
      devicePixelRatio: 1,
      layout: { padding: pad },
      plugins: { legend: { display: false }, tooltip: { enabled: false }, panel: opts },
      scales: {
        x: {
          type: 'linear', min: xMin, max: xMax, reverse: true,
          afterBuildTicks: s => { s.ticks = xTickVals.map(v => ({ value: v })); },
          afterFit: s => { s.height = xHeight; },
          grid: { display: false, drawTicks: false },
          border: { display: false },
          ticks: {
            autoSkip: false, maxRotation: 0, padding: 12, color: '#333',
            font: { family: FONT_NUM, size: 30 },
            callback: v => xLabelled.includes(v) ? String(v) : ''
          }
        },
        y: { type: 'linear', min: 0, max: 100, display: false }
      }
    },
    plugins: [panelPlugin]
  });
}

makePanel('cvC', [c0, c7, c14, c21, c28], { left: 96, right: 108, top: 57, bottom: 0 }, 240, {
  frame: [18.5, 18.5, 1541, 1187], yTicks: yTicksC, names: nameAtC,
  peakWn: peakWnC, peakY: peakYC, peakUp: peakUpC,
  titleDx: 27, titleY: 1185, yTitle: [42, 600], letter: '(c)', letterAt: [789, 1298]
});
makePanel('cvD', [d0, d7, d14, d21, d28], { left: 129, right: 82, top: 53, bottom: 0 }, 248, {
  frame: [45.5, 18.5, 1541, 1186], yTicks: yTicksD, names: nameAtD,
  peakWn: peakWnD, peakY: peakYD, peakUp: peakUpD, stray: strayUnitD,
  titleDx: 23, titleY: 1181, yTitle: [76, 600], letter: '(d)', letterAt: [816, 1298]
});
</script>
</body>
</html>
